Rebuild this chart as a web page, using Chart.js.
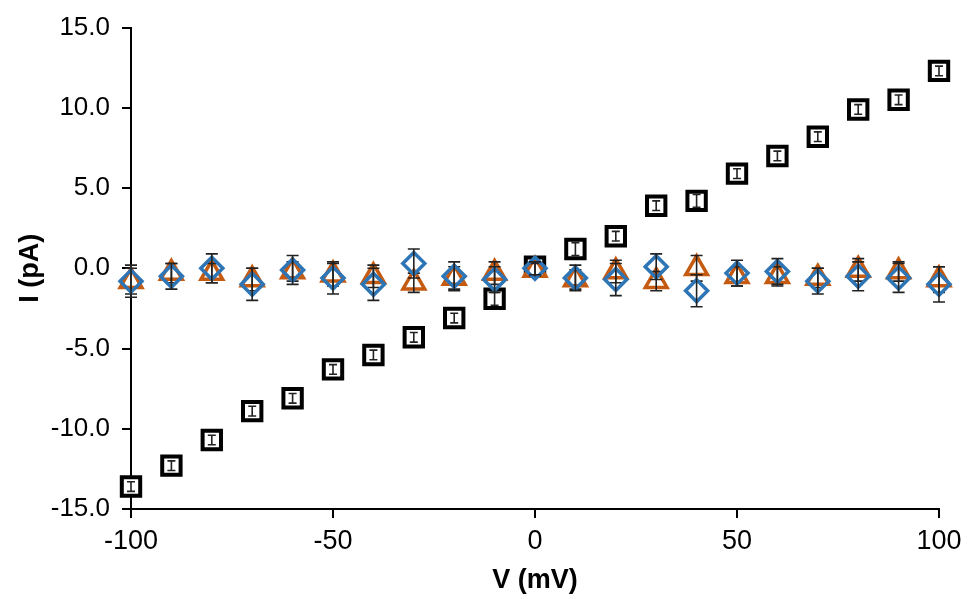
<!DOCTYPE html>
<html>
<head>
<meta charset="utf-8">
<script src="https://cdn.jsdelivr.net/npm/chart.js@4"></script>
<style>
  html, body { margin: 0; padding: 0; background: #fff; }
  #wrap { width: 969px; height: 599px; }
</style>
</head>
<body>
<div id="wrap"><canvas id="ivChart"></canvas></div>
<script>
// voltage steps (mV)
const voltages = [-100, -90, -80, -70, -60, -50, -40, -30, -20, -10, 0, 10, 20, 30, 40, 50, 60, 70, 80, 90, 100];

// black squares
const squareI   = [-13.6, -12.3, -10.7, -8.9, -8.1, -6.3, -5.4, -4.3, -3.1, -1.9, 0.1, 1.2, 2.0, 3.9, 4.2, 5.9, 7.0, 8.2, 9.9, 10.5, 12.3];
const squareErr = [0.3, 0.3, 0.3, 0.3, 0.3, 0.3, 0.3, 0.3, 0.3, 0.4, 0.3, 0.4, 0.3, 0.3, 0.4, 0.3, 0.3, 0.3, 0.3, 0.3, 0.3];

// orange triangles
const triangleI   = [-0.8, -0.3, -0.3, -0.7, -0.2, -0.4, -0.5, -0.9, -0.6, -0.3, -0.1, -0.7, -0.2, -0.8, 0.0, -0.5, -0.5, -0.6, -0.1, -0.2, -0.7];
const triangleErr = [0.8, 0.6, 0.6, 0.7, 0.6, 0.7, 0.7, 0.6, 0.7, 0.7, 0.4, 0.6, 0.7, 0.6, 0.8, 0.6, 0.6, 0.6, 0.7, 0.6, 0.8];

// blue diamonds
const diamondI   = [-0.8, -0.5, 0.0, -1.0, -0.1, -0.6, -1.0, 0.3, -0.5, -0.7, 0.0, -0.6, -0.7, 0.1, -1.4, -0.3, -0.2, -0.8, -0.5, -0.6, -1.0];
const diamondErr = [1.0, 0.8, 0.9, 1.0, 0.9, 1.0, 1.0, 0.9, 0.9, 0.8, 0.4, 0.8, 1.0, 0.8, 1.0, 0.8, 0.8, 0.8, 0.9, 0.9, 1.1];

const xTicks = [-100, -50, 0, 50, 100];
const yTicks = [-15, -10, -5, 0, 5, 10, 15];

function toPoints(ys, errs) {
    return voltages.map((v, i) => ({ x: v, y: ys[i], err: errs[i] }));
}

// vertical error bars with caps, drawn right after each dataset
const errorBars = {
    id: "errorBars",
    afterDatasetDraw(chart, args) {
        const ds = chart.data.datasets[args.index];
        const meta = args.meta;
        const yScale = chart.scales.y;
        const c = chart.ctx;
        c.save();
        c.strokeStyle = ds.errColor || "#000";
        c.lineWidth = 1.6;
        meta.data.forEach((pt, i) => {
            const d = ds.data[i];
            const top = yScale.getPixelForValue(d.y + d.err);
            const bot = yScale.getPixelForValue(d.y - d.err);
            const cap = ds.capWidth || 6;
            c.beginPath();
            c.moveTo(pt.x, top); c.lineTo(pt.x, bot);
            c.moveTo(pt.x - cap, top); c.lineTo(pt.x + cap, top);
            c.moveTo(pt.x - cap, bot); c.lineTo(pt.x + cap, bot);
            c.stroke();
        });
        c.restore();
    }
};

const ctx = document.getElementById("ivChart").getContext("2d");
new Chart(ctx, {
    type: "scatter",
    data: {
        datasets: [
            {
                label: "diamond",
                data: toPoints(diamondI, diamondErr),
                pointStyle: "rectRot",
                radius: 11,
                borderWidth: 3.5,
                borderColor: "#2e75b6",
                backgroundColor: "rgba(255,255,255,0)",
                errColor: "#222",
                capWidth: 6,
                clip: false,
                order: 1,
            },
            {
                label: "triangle",
                data: toPoints(triangleI, triangleErr),
                pointStyle: "triangle",
                radius: 12.5,
                borderWidth: 3.5,
                borderColor: "#c55a11",
                backgroundColor: "#fff",
                errColor: "#222",
                capWidth: 6,
                clip: false,
                order: 2,
            },
            {
                label: "square",
                data: toPoints(squareI, squareErr),
                pointStyle: "rect",
                radius: 13,
                borderWidth: 4,
                borderColor: "#000",
                backgroundColor: "#fff",
                errColor: "#222",
                capWidth: 4,
                clip: false,
                order: 3,
            },
        ],
    },
    options: {
        responsive: true,
        maintainAspectRatio: false,
        animation: false,
        layout: { padding: { top: 25, right: 30, left: 0, bottom: 0 } },
        plugins: {
            legend: { display: false },
            tooltip: { enabled: false },
        },
        scales: {
            x: {
                type: "linear",
                min: -100,
                max: 100,
                afterBuildTicks: (s) => { s.ticks = xTicks.map(v => ({ value: v })); },
                afterFit: (s) => { s.height = 90; },
                ticks: {
                    color: "#000",
                    font: { family: "Liberation Sans", size: 27 },
                    padding: 7,
                    maxRotation: 0,
                },
                grid: { drawOnChartArea: false, drawTicks: true, tickLength: 9, color: "#000", lineWidth: 2 },
                border: { display: true, color: "#000", width: 2 },
                title: {
                    display: true,
                    text: "V (mV)",
                    color: "#000",
                    font: { family: "Liberation Sans", size: 27, weight: "bold" },
                    padding: { top: 0, bottom: 2 },
                },
            },
            y: {
                type: "linear",
                min: -15,
                max: 15,
                afterBuildTicks: (s) => { s.ticks = yTicks.map(v => ({ value: v })); },
                afterFit: (s) => { s.width = 131; },
                ticks: {
                    color: "#000",
                    font: { family: "Liberation Sans", size: 26 },
                    padding: 12,
                    callback: (v) => v.toFixed(1),
                },
                grid: { drawOnChartArea: false, drawTicks: true, tickLength: 9, color: "#000", lineWidth: 2 },
                border: { display: true, color: "#000", width: 2 },
                title: {
                    display: true,
                    text: "I (pA)",
                    color: "#000",
                    font: { family: "Liberation Sans", size: 27, weight: "bold" },
                    padding: { top: 14, bottom: 0 },
                },
            },
        },
    },
    plugins: [errorBars],
});
</script>
</body>
</html>
